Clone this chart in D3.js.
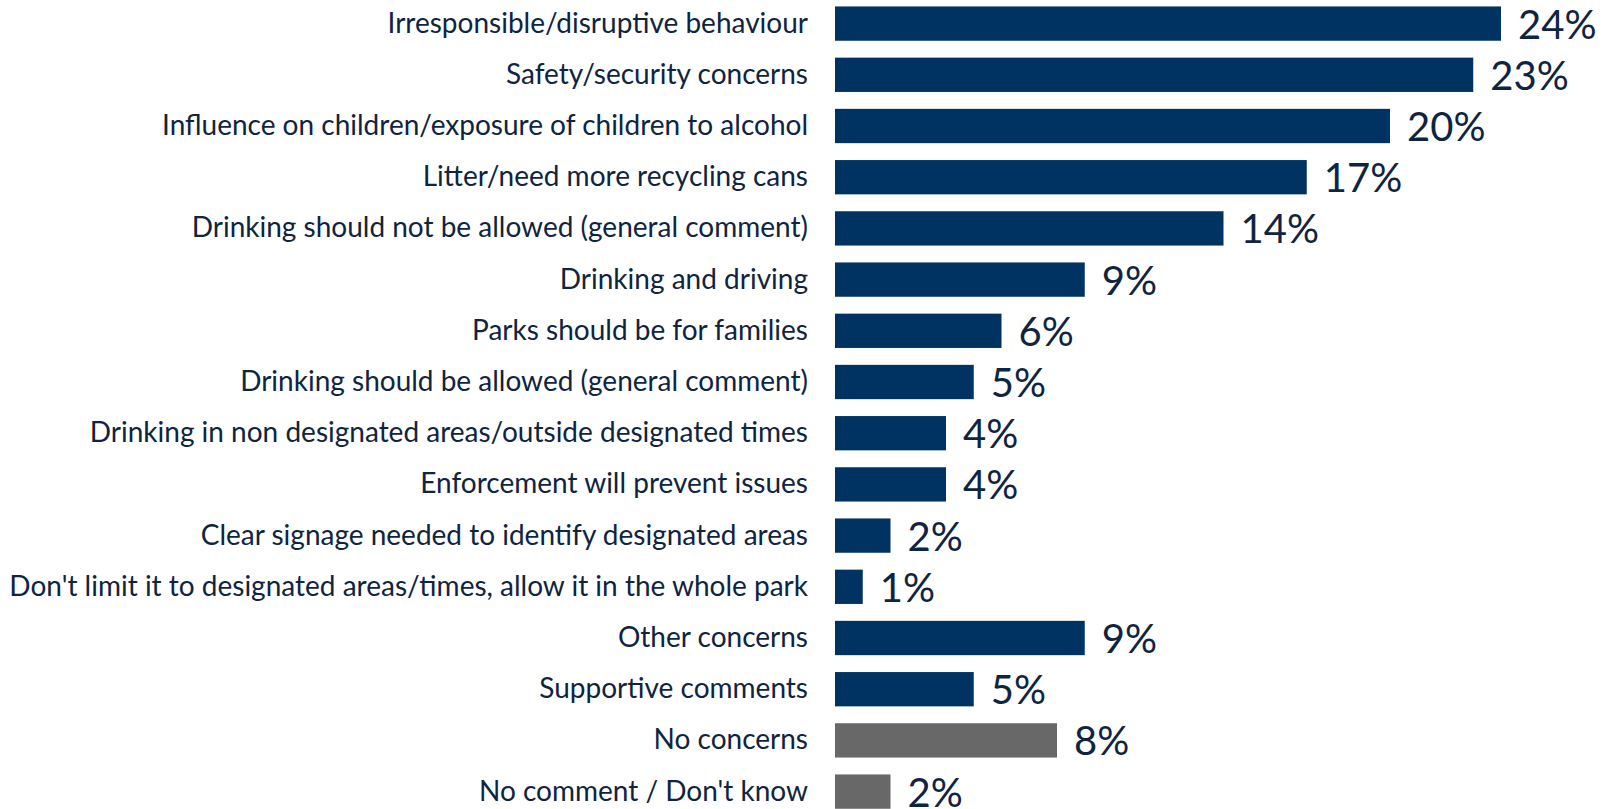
<!DOCTYPE html>
<html>
<head>
<meta charset="utf-8">
<script src="https://cdn.jsdelivr.net/npm/d3@7"></script>
<style>
  html, body { margin: 0; padding: 0; background: #fff; }
  svg { display: block; }
  .label { font-family: Lato, sans-serif; font-size: 28px; fill: #0f2440; }
  .value { font-family: Lato, sans-serif; font-size: 40px; fill: #0f2440; }
</style>
</head>
<body>
<svg id="chart"></svg>
<script>
const categories = [
  'Irresponsible/disruptive behaviour',
  'Safety/security concerns',
  'Influence on children/exposure of children to alcohol',
  'Litter/need more recycling cans',
  'Drinking should not be allowed (general comment)',
  'Drinking and driving',
  'Parks should be for families',
  'Drinking should be allowed (general comment)',
  'Drinking in non designated areas/outside designated times',
  'Enforcement will prevent issues',
  'Clear signage needed to identify designated areas',
  "Don't limit it to designated areas/times, allow it in the whole park",
  'Other concerns',
  'Supportive comments',
  'No concerns',
  "No comment / Don't know"
];
const values = [24, 23, 20, 17, 14, 9, 6, 5, 4, 4, 2, 1, 9, 5, 8, 2];
const groups = ['main', 'main', 'main', 'main', 'main', 'main', 'main', 'main',
  'main', 'main', 'main', 'main', 'main', 'main', 'neutral', 'neutral'];

const width = 1604;
const height = 809;
const barLeft = 835;

const svg = d3.select('#chart')
  .attr('width', width)
  .attr('height', height);

const x = d3.scaleLinear()
  .domain([0, 24])
  .range([barLeft, 1501]);

const y = d3.scaleBand()
  .domain(categories)
  .range([-2, 16 * 51.2 - 2])
  .paddingInner(0.33)
  .paddingOuter(0.165);

const color = d3.scaleOrdinal()
  .domain(['main', 'neutral'])
  .range(['#003362', '#686868']);

const rows = svg.selectAll('g.row')
  .data(categories)
  .enter()
  .append('g')
  .attr('class', 'row');

rows.append('rect')
  .attr('x', x(0))
  .attr('y', d => y(d))
  .attr('width', (d, i) => x(values[i]) - x(0))
  .attr('height', y.bandwidth())
  .attr('fill', (d, i) => color(groups[i]));

rows.append('text')
  .attr('class', 'label')
  .attr('x', barLeft - 27)
  .attr('y', d => y(d) + y.bandwidth() / 2 + 9)
  .attr('text-anchor', 'end')
  .text(d => d);

rows.append('text')
  .attr('class', 'value')
  .attr('x', (d, i) => x(values[i]) + 17)
  .attr('y', d => y(d) + y.bandwidth() / 2 + 15)
  .text((d, i) => values[i] + '%');
</script>
</body>
</html>
